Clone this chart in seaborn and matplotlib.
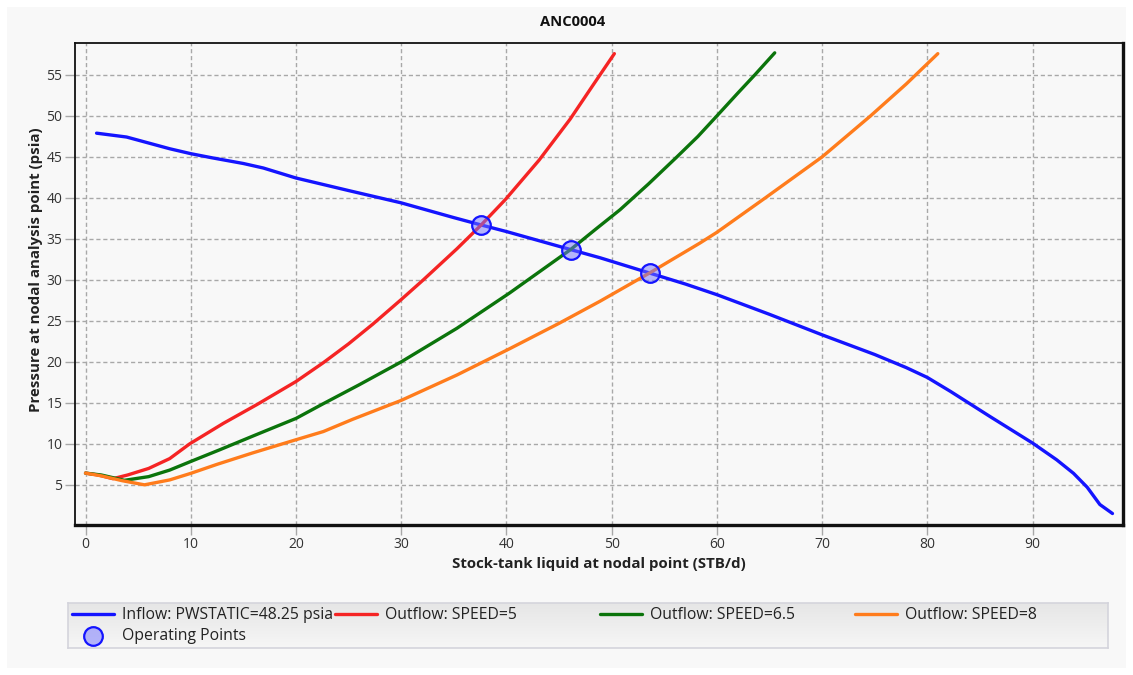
import numpy as np
import pandas as pd
import matplotlib
matplotlib.use("Agg")
import matplotlib.pyplot as plt
from matplotlib.patches import Rectangle
from matplotlib.colors import LinearSegmentedColormap
import seaborn as sns

# ---- data -----------------------------------------------------------------
inflow_x = [1.05, 3.9, 8, 10, 12, 15, 16.9, 20, 25, 30, 35, 37.6, 40, 46.1, 48.9,
            53.6, 57, 60, 65, 70, 75, 78, 80, 82.2, 86, 88, 90, 92.3, 93.9, 95.2,
            96.4, 97.6]
inflow_y = [47.9, 47.43, 46.0, 45.4, 44.9, 44.2, 43.65, 42.43, 40.9, 39.4, 37.6, 36.7,
            35.9, 33.7, 32.7, 30.84, 29.5, 28.2, 25.8, 23.3, 20.9, 19.3, 18.1, 16.4,
            13.3, 11.7, 10.1, 8.05, 6.4, 4.7, 2.6, 1.5]

speed5_x = [0, 1.2, 2.6, 4, 6, 8, 9.9, 13.1, 16.3, 20, 22.6, 25, 27.3, 30, 32.1,
            35.3, 37.6, 39.9, 43.1, 46.05, 48.2, 50.26]
speed5_y = [6.43, 6.2, 5.75, 6.2, 7.0, 8.2, 10.0, 12.5, 14.8, 17.6, 19.9, 22.2, 24.6,
            27.6, 30.0, 33.8, 36.7, 39.8, 44.6, 49.6, 53.7, 57.6]

speed65_x = [0, 1.5, 3.7, 6, 8, 10, 12.8, 16, 20, 22.6, 26, 30, 35.3, 40.3, 46.1,
             48.5, 50.8, 53.5, 56.2, 58.2, 60.0, 62, 63.6, 65.5]
speed65_y = [6.43, 6.2, 5.55, 6.0, 6.8, 7.85, 9.3, 11.0, 13.1, 14.9, 17.2, 20.0, 24.1,
             28.4, 33.7, 36.2, 38.56, 41.7, 45.0, 47.5, 50.0, 52.8, 55.0, 57.7]

speed8_x = [0, 1.5, 3.5, 5.6, 8, 10, 12.5, 15.9, 20, 22.6, 25.4, 30, 35.3, 40.3, 45,
            48.9, 53.6, 58.4, 60, 64.6, 70, 74.6, 78, 81.0]
speed8_y = [6.43, 6.1, 5.5, 5.0, 5.6, 6.4, 7.5, 8.9, 10.5, 11.5, 13.0, 15.3, 18.4, 21.6,
            24.7, 27.4, 30.84, 34.5, 35.8, 40.0, 45.0, 50.0, 53.9, 57.6]

op_x = [37.6, 46.1, 53.6]
op_y = [36.7, 33.7, 30.84]

series_labels = ["Inflow: PWSTATIC=48.25 psia", "Outflow: SPEED=5",
                 "Outflow: SPEED=6.5", "Outflow: SPEED=8"]
op_label = "Operating Points"
x_ticks = [0, 10, 20, 30, 40, 50, 60, 70, 80, 90]
y_ticks = [5, 10, 15, 20, 25, 30, 35, 40, 45, 50, 55]

# ---- style ----------------------------------------------------------------
sns.set_style("ticks")
plt.rcParams["font.family"] = ["Open Sans", "DejaVu Sans"]
plt.rcParams["font.size"] = 10

W, H = 1133, 675
fig = plt.figure(figsize=(W / 100, H / 100), dpi=100, facecolor="white")

# light panel behind everything
fig.patches.append(Rectangle((7 / W, 7 / H), (W - 14) / W, (H - 14) / H,
                             transform=fig.transFigure, facecolor="#f8f8f8",
                             edgecolor="none", zorder=-10))

ax_l, ax_r, ax_t, ax_b = 75, 1123, 43, 525
ax = fig.add_axes([ax_l / W, 1 - ax_b / H, (ax_r - ax_l) / W, (ax_b - ax_t) / H])
ax.set_facecolor("#f8f8f8")

colors = ["#1414ff", "#f52424", "#0b740b", "#ff7c1c"]
curves = [(inflow_x, inflow_y), (speed5_x, speed5_y),
          (speed65_x, speed65_y), (speed8_x, speed8_y)]
for (cx, cy), lab, col in zip(curves, series_labels, colors):
    df = pd.DataFrame({"x": cx, "y": cy})
    sns.lineplot(data=df, x="x", y="y", ax=ax, color=col, lw=2.4,
                 sort=False, estimator=None, label=lab, zorder=3)

sns.scatterplot(x=op_x, y=op_y, ax=ax, s=180, color=(0.45, 0.45, 1.0, 0.5),
                edgecolor="#1414ff", linewidth=1.6, label=op_label, zorder=5)

if ax.get_legend() is not None:
    ax.get_legend().remove()

ax.set_xlim(-1.0, 98.6)
ax.set_ylim(0.1, 58.9)
ax.set_xticks(x_ticks)
ax.set_yticks(y_ticks)
ax.grid(True, color="#a8a8a8", linestyle=(0, (3, 2)), linewidth=1.0, zorder=0)
ax.set_axisbelow(True)
ax.tick_params(axis="both", length=7, width=1, color="#a8a8a8", pad=2,
               labelsize=10, labelcolor="#333333")

for side in ["left", "top"]:
    ax.spines[side].set_linewidth(1.3)
    ax.spines[side].set_color("#111111")
for side in ["right", "bottom"]:
    ax.spines[side].set_linewidth(2.4)
    ax.spines[side].set_color("#111111")

ax.set_xlabel("Stock-tank liquid at nodal point (STB/d)", fontsize=10.8,
              fontweight="bold", color="#222222")
ax.set_ylabel("Pressure at nodal analysis point (psia)", fontsize=10.8,
              fontweight="bold", color="#222222")
ax.xaxis.set_label_coords(0.5, -0.066)
ax.yaxis.set_label_coords(-0.0305, 0.529)

fig.text(573 / W, 1 - 22 / H, "ANC0004", ha="center", va="center",
         fontsize=10.6, fontweight="bold", color="#111111")

# ---- legend strip -----------------------------------------------------------
lg_l, lg_r, lg_t, lg_b = 68, 1108, 603, 648
lax = fig.add_axes([lg_l / W, 1 - lg_b / H, (lg_r - lg_l) / W, (lg_b - lg_t) / H])
grad = np.linspace(0, 1, 64).reshape(-1, 1)
cmap = LinearSegmentedColormap.from_list("strip", ["#f6f6f6", "#e6e6e6"])
lax.imshow(grad, aspect="auto", cmap=cmap, extent=[0, 1, 0, 1], origin="lower")
lax.set_xticks([])
lax.set_yticks([])
for s in lax.spines.values():
    s.set_color("#d4d4dc")
    s.set_linewidth(1.2)

handles, labels = ax.get_legend_handles_labels()
hmap = dict(zip(labels, handles))
columns = [
    (72, [series_labels[0], op_label]),
    (335, [series_labels[1]]),
    (600, [series_labels[2]]),
    (855, [series_labels[3]]),
]
for xpix, labs in columns:
    fig.legend([hmap[l] for l in labs], labs, loc="upper left",
               bbox_to_anchor=(xpix / W, 1 - 607 / H), bbox_transform=fig.transFigure,
               frameon=False, borderpad=0, borderaxespad=0, handlelength=2.7,
               handletextpad=0.5, labelspacing=0.3, fontsize=11.3,
               labelcolor="#222222")

fig.savefig("out.png", dpi=100, facecolor="white")
